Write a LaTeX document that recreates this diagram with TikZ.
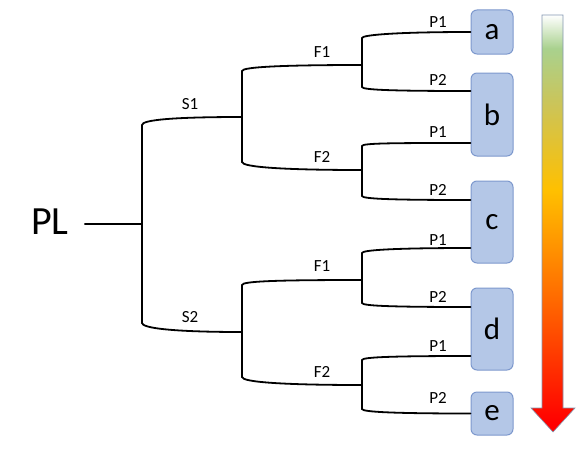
\documentclass[tikz,border=0pt]{standalone}
\usepackage{fontspec}
\setmainfont{Carlito}
\usepackage{xcolor}
\definecolor{BoxFill}{RGB}{180,199,231}
\definecolor{BoxLine}{RGB}{125,152,205}
\definecolor{BarLine}{RGB}{132,151,176}
\definecolor{Heat1}{RGB}{169,209,142}
\definecolor{Heat2}{RGB}{205,196,86}
\definecolor{Heat3}{RGB}{255,192,0}
\definecolor{Heat4}{RGB}{255,106,0}
\definecolor{Heat5}{RGB}{255,0,0}
\pgfdeclareverticalshading{HeatBar}{100bp}{color(0bp)=(Heat5); color(26bp)=(Heat5);
  color(41bp)=(Heat4); color(54bp)=(Heat3); color(64bp)=(Heat2);
  color(71bp)=(Heat1); color(75bp)=(white); color(100bp)=(white)}
\tikzstyle{Edge}=[draw=black,line width=1.8pt,line cap=round]
\tikzstyle{Leaf}=[rectangle,rounded corners=6pt,draw=BoxLine,fill=BoxFill,
line width=1pt,minimum width=42pt,inner sep=0pt,font=\fontsize{31}{31}\selectfont]
\tikzstyle{NodeLab}=[inner sep=0pt,font=\fontsize{17}{17}\selectfont]
\tikzstyle{NodeRoot}=[inner sep=0pt,font=\fontsize{40}{40}\selectfont]

\begin{document}
\begin{tikzpicture}[x=1pt,y=-1pt]
    \useasboundingbox (0,0) rectangle (577,452);
        \node[Leaf,minimum height=44pt](a)at(492,32){a};
        \node[Leaf,minimum height=83pt](b)at(492,114.5){b};
        \node[Leaf,minimum height=82pt](c)at(492,222){c};
        \node[Leaf,minimum height=82pt](d)at(492,329){d};
        \node[Leaf,minimum height=43pt](e)at(492,413.5){e};
        \node[NodeRoot](PL)at(50,222){PL};
        \coordinate(r0)at(142,224);
        \coordinate(s1)at(242,117);
        \coordinate(s2)at(242,332);
        \coordinate(f1)at(362,65);
        \coordinate(f2)at(362,170);
        \coordinate(f3)at(362,280);
        \coordinate(f4)at(362,385);
        \coordinate(b1)at([yshift=23.5pt]b.west);
        \coordinate(b2)at([yshift=-28.5pt]b.west);
        \coordinate(c1)at([yshift=22pt]c.west);
        \coordinate(c2)at([yshift=-26pt]c.west);
        \coordinate(d1)at([yshift=22pt]d.west);
        \coordinate(d2)at([yshift=-27pt]d.west);
        \draw[Edge]([xshift=16pt]PL.east|-r0)--(r0);
        \draw[Edge](s1)..controls +(-70,0) and +(0,-5)..(142,125)--(142,323)
            ..controls +(0,5) and +(-70,0)..(s2);
        \draw[Edge](f1)..controls +(-80,0) and +(0,-4)..(242,71)--(242,162)
            ..controls +(0,5) and +(-80,0)..(f2);
        \draw[Edge](f3)..controls +(-80,0) and +(0,-4)..(242,285)--(242,377)
            ..controls +(0,5) and +(-80,0)..(f4);
        \draw[Edge](a.west)..controls +(-75,0) and +(0,-3)..(362,38)--(362,87)
            ..controls +(0,3) and +(-75,0)..(b1);
        \draw[Edge](b2)..controls +(-75,0) and +(0,-3)..(362,146)--(362,196)
            ..controls +(0,3) and +(-75,0)..(c1);
        \draw[Edge](c2)..controls +(-75,0) and +(0,-3)..(362,253)--(362,303)
            ..controls +(0,3) and +(-75,0)..(d1);
        \draw[Edge](d2)..controls +(-75,0) and +(0,-3)..(362,360)--(362,409)
            ..controls +(0,3) and +(-75,0)..(e.west);
        \node[NodeLab](S1)at(190,104){S1};
        \node[NodeLab](S2)at(190,317){S2};
        \node[NodeLab](F1a)at(322,52){F1};
        \node[NodeLab](F2a)at(322,157){F2};
        \node[NodeLab](F1b)at(322,266){F1};
        \node[NodeLab](F2b)at(322,372){F2};
        \node[NodeLab](P1a)at(438,22){P1};
        \node[NodeLab](P2a)at(438,80){P2};
        \node[NodeLab](P1b)at(438,132){P1};
        \node[NodeLab](P2b)at(438,190){P2};
        \node[NodeLab](P1c)at(438,240){P1};
        \node[NodeLab](P2c)at(438,297){P2};
        \node[NodeLab](P1d)at(438,346){P1};
        \node[NodeLab](P2d)at(438,398){P2};
        \shadedraw[shading=HeatBar,draw=BarLine,line width=0.6pt]
            (542,15)--(563,15)--(563,408)--(575,408)--(553,432)--(531,408)--(542,408)--cycle;
    \end{tikzpicture}
\end{document}
